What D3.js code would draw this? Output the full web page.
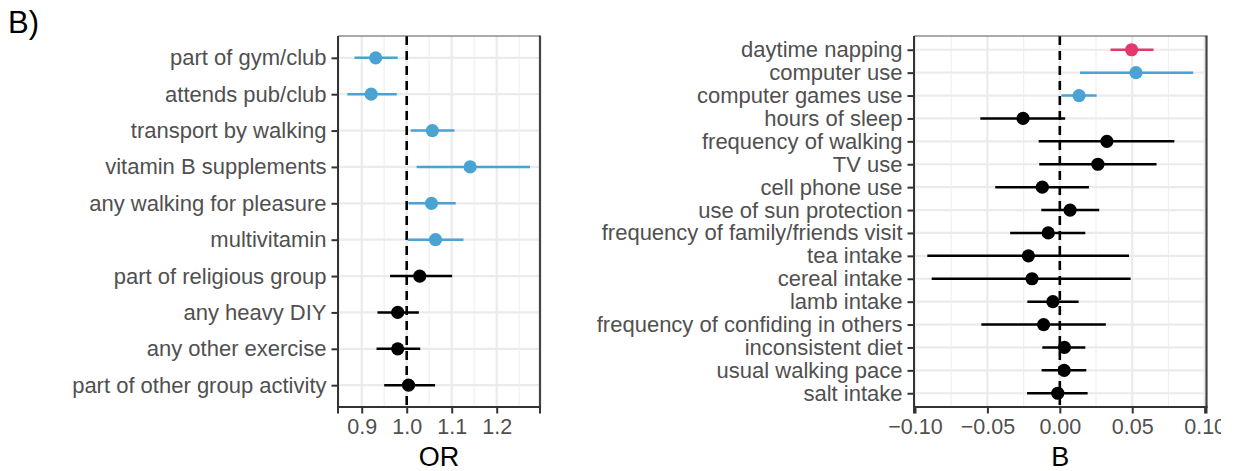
<!DOCTYPE html>
<html><head><meta charset="utf-8">
<script src="https://cdn.jsdelivr.net/npm/d3@7"></script>
<style>
body{margin:0;background:#fff;}
svg{display:block;font-family:"Liberation Sans",Arial,Helvetica,sans-serif;}
</style></head>
<body>
<svg id="chart" width="1238" height="471"></svg>
<script>
// ---------- Data ----------
const leftLabels = ["part of gym/club","attends pub/club","transport by walking","vitamin B supplements","any walking for pleasure","multivitamin","part of religious group","any heavy DIY","any other exercise","part of other group activity"];
const leftOR    = [0.931,0.921,1.057,1.141,1.055,1.064,1.029,0.980,0.980,1.004];
const leftLow   = [0.884,0.868,1.009,1.022,1.004,1.002,0.963,0.935,0.933,0.950];
const leftHigh  = [0.980,0.978,1.106,1.274,1.109,1.126,1.101,1.027,1.030,1.063];
const leftGroup = ["sig","sig","sig","sig","sig","sig","ns","ns","ns","ns"];
const leftTicks = [0.9,1.0,1.1,1.2];
const leftMinor = [0.85,0.95,1.05,1.15,1.25];

const rightLabels = ["daytime napping","computer use","computer games use","hours of sleep","frequency of walking","TV use","cell phone use","use of sun protection","frequency of family/friends visit","tea intake","cereal intake","lamb intake","frequency of confiding in others","inconsistent diet","usual walking pace","salt intake"];
const rightB    = [0.0496,0.0526,0.0133,-0.0254,0.0325,0.0263,-0.0121,0.0071,-0.0080,-0.0217,-0.0192,-0.0048,-0.0112,0.0032,0.0030,-0.0014];
const rightLow  = [0.0350,0.0139,0.0011,-0.0549,-0.0146,-0.0142,-0.0446,-0.0128,-0.0343,-0.0915,-0.0885,-0.0224,-0.0542,-0.0121,-0.0126,-0.0226];
const rightHigh = [0.0647,0.0921,0.0254,0.0037,0.0791,0.0668,0.0201,0.0272,0.0176,0.0478,0.0489,0.0130,0.0318,0.0176,0.0183,0.0192];
const rightGroup = ["pos","sig","sig","ns","ns","ns","ns","ns","ns","ns","ns","ns","ns","ns","ns","ns"];
const rightTicks = [-0.10,-0.05,0.00,0.05,0.10];
const rightMinor = [-0.075,-0.025,0.025,0.075];

const colors = {sig:"#4aa3d2", pos:"#e3386b", ns:"#000000"};

const svg = d3.select("#chart");
svg.append("defs").append("clipPath").attr("id","pageclip")
  .append("rect").attr("x",0).attr("y",0).attr("width",1221).attr("height",471);

svg.append("text").attr("x",8).attr("y",33).attr("font-size",31).attr("fill","#000").text("B)");

function panel(opt){
  const {labels, est, lo, hi, grp, ticks, minor, domain, x0, x1, y0, y1, ref, title, fmt} = opt;
  const x = d3.scaleLinear().domain(domain).range([x0,x1]);
  const y = d3.scalePoint().domain(labels).range([y0,y1]).padding(0.6);
  const g = svg.append("g").attr("clip-path","url(#pageclip)");
  // grid
  g.selectAll(".minor").data(minor).join("line")
    .attr("x1",d=>x(d)).attr("x2",d=>x(d)).attr("y1",y0).attr("y2",y1)
    .attr("stroke","#f0f0f0").attr("stroke-width",1.2);
  g.selectAll(".major").data(ticks).join("line")
    .attr("x1",d=>x(d)).attr("x2",d=>x(d)).attr("y1",y0).attr("y2",y1)
    .attr("stroke","#ebebeb").attr("stroke-width",2.2);
  g.selectAll(".hmajor").data(labels).join("line")
    .attr("x1",x0).attr("x2",x1).attr("y1",d=>y(d)).attr("y2",d=>y(d))
    .attr("stroke","#ebebeb").attr("stroke-width",2.2);
  // reference line
  g.append("line").attr("x1",x(ref)).attr("x2",x(ref)).attr("y1",y0).attr("y2",y1)
    .attr("stroke","#000").attr("stroke-width",2.6).attr("stroke-dasharray","9,6");
  // error bars & points
  const rows = labels.map((l,i)=>({l, e:est[i], a:lo[i], b:hi[i], c:colors[grp[i]]}));
  g.selectAll(".ci").data(rows).join("line")
    .attr("x1",d=>x(d.a)).attr("x2",d=>x(d.b)).attr("y1",d=>y(d.l)).attr("y2",d=>y(d.l))
    .attr("stroke",d=>d.c).attr("stroke-width",2.5);
  g.selectAll(".pt").data(rows).join("circle")
    .attr("cx",d=>x(d.e)).attr("cy",d=>y(d.l)).attr("r",6.6).attr("fill",d=>d.c);
  // border
  g.append("line").attr("x1",x0).attr("x2",x1).attr("y1",y0).attr("y2",y0).attr("stroke","#555").attr("stroke-width",1);
  g.append("line").attr("x1",x1).attr("x2",x1).attr("y1",y0-0.5).attr("y2",y1+1).attr("stroke","#444").attr("stroke-width",2.2);
  // axes
  const ya = d3.axisLeft(y).tickSize(6.5).tickPadding(5);
  const yg = g.append("g").attr("transform",`translate(${x0},0)`).call(ya);
  const xa = d3.axisBottom(x).tickValues(ticks).tickFormat(fmt).tickSize(6.5).tickPadding(5);
  const xg = g.append("g").attr("transform",`translate(0,${y1})`).call(xa);
  [yg,xg].forEach(a=>{
    a.select(".domain").attr("stroke","#333").attr("stroke-width",2);
    a.selectAll(".tick line").attr("stroke","#333").attr("stroke-width",2);
    a.selectAll(".tick text").attr("fill","#505050")
      .attr("font-family","Liberation Sans, Arial, sans-serif");
  });
  yg.selectAll(".tick text").attr("font-size",22);
  xg.selectAll(".tick text").attr("font-size",21.5);
  xg.select(".domain").attr("d",`M${x0},6.5V0H${x1}V6.5`);
  yg.select(".domain").attr("d",`M0,${y0}V${y1}`);
  g.append("text").attr("x",(x0+x1)/2).attr("y",466).attr("text-anchor","middle")
    .attr("font-size",27).attr("fill","#000").text(title);
}

panel({labels:leftLabels, est:leftOR, lo:leftLow, hi:leftHigh, grp:leftGroup,
  ticks:leftTicks, minor:leftMinor, domain:[0.8473,1.2962], x0:338, x1:540, y0:36, y1:407,
  ref:1.0, title:"OR", fmt:d3.format(".1f")});
panel({labels:rightLabels, est:rightB, lo:rightLow, hi:rightHigh, grp:rightGroup,
  ticks:rightTicks, minor:rightMinor, domain:[-0.1007,0.1013], x0:914, x1:1206.5, y0:36, y1:407,
  ref:0, title:"B", fmt:d=>d3.format(".2f")(d).replace("-","\u2212")});
</script>
</body></html>
